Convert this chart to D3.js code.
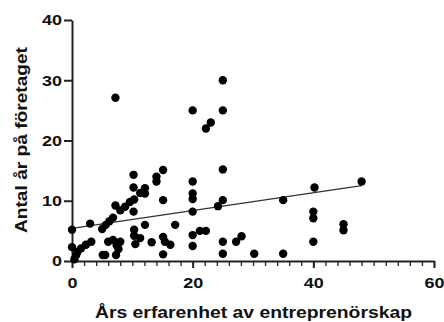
<!DOCTYPE html>
<html>
<head>
<meta charset="utf-8">
<script src="https://cdn.jsdelivr.net/npm/d3@7"></script>
<style>
  body { margin: 0; background: #fff; }
  text { font-family: "Liberation Sans", Arial, sans-serif; font-weight: bold; }
</style>
</head>
<body>
<div id="chart"></div>
<script>
// years of entrepreneurship experience (x) vs years at the company (y)
var expYears = [0, 0, 0.7, 0.9, 1.5, 2.3, 3.2, 0.4, 3, 5.1, 5.5, 5, 5.6, 6.2, 6.8, 7.2, 8, 8.8, 9.6, 10.3,
    6, 6.8, 7.4, 8, 7.7, 7.3, 10.5, 10.3, 10.3, 10.2, 10.2, 10.2, 11.3, 12.1, 12.1, 12.1, 11.3, 13.2,
    14, 14, 15.1, 15.1, 17.1, 15.1, 15.4, 16.3, 15.1, 7.2,
    20, 20, 20, 20, 20, 20, 20, 21.2, 22.2, 22.2, 23, 24.2, 25, 25, 25, 25, 25, 25, 27.2, 28.1, 30.2,
    35, 35, 40.2, 40, 40, 40, 45, 45, 48];
var companyYears = [5.2, 2.3, 1, 1.5, 2.1, 2.7, 3.2, 0.3, 6.2, 1, 1, 5.3, 6, 6.6, 7.2, 9.2, 8.4, 9, 9.8, 10.2,
    3.2, 3.5, 2.6, 3.2, 2, 1, 2.8, 4.2, 5.2, 8.2, 12.2, 14.3, 11.3, 12.1, 11.2, 6, 3.8, 3.1,
    14, 13.2, 15.1, 10.1, 6, 4, 3.2, 2.7, 1.1, 27.1,
    25, 13.2, 11.2, 10.3, 8.2, 4.3, 2.5, 5, 5, 22, 23, 9.1, 30, 25, 15.2, 10.1, 3.2, 1.2, 3.2, 4.1, 1.2,
    10.1, 1.2, 12.2, 8.2, 7.1, 3.2, 6.1, 5.1, 13.2];
// fitted line end points
var fitX = [0, 48];
var fitY = [5.4, 12.5];
var yTicks = [0, 10, 20, 30, 40];
var xTicks = [0, 20, 40, 60];
var xMinorTicks = d3.range(0, 61, 2);

var w = 444, h = 322;
var margin = {left: 72, top: 20, right: 10, bottom: 61};

var svg = d3.select("#chart").append("svg").attr("width", w).attr("height", h);

var x = d3.scaleLinear().domain([0, 60]).range([margin.left, w - margin.right]);
var y = d3.scaleLinear().domain([0, 40]).range([h - margin.bottom, margin.top]);

// labels in the picture are a bit wider than the font
function widen(sel){
    sel.attr("font-size", 15).attr("fill", "#111")
       .attr("textLength", function(d){ return String(d).length * 10; })
       .attr("lengthAdjust", "spacingAndGlyphs");
}

// minor x ticks
svg.append("g")
    .attr("transform", "translate(0," + y(0) + ")")
    .call(d3.axisBottom(x).tickValues(xMinorTicks).tickSize(5).tickFormat(""))
    .call(function(g){ g.select(".domain").remove(); })
    .selectAll("line").attr("stroke", "#222").attr("stroke-width", 1.3);

var xAxis = svg.append("g")
    .attr("transform", "translate(0," + y(0) + ")")
    .call(d3.axisBottom(x).tickValues(xTicks).tickSize(7).tickSizeOuter(0).tickPadding(9));
xAxis.select(".domain").attr("stroke", "#222").attr("stroke-width", 2);
xAxis.selectAll("line").attr("stroke", "#222").attr("stroke-width", 2);
xAxis.selectAll("text").call(widen);

var yAxis = svg.append("g")
    .attr("transform", "translate(" + x(0) + ",0)")
    .call(d3.axisLeft(y).tickValues(yTicks).tickSize(8).tickSizeOuter(0).tickPadding(2));
yAxis.select(".domain").attr("stroke", "#222").attr("stroke-width", 2);
yAxis.selectAll("line").attr("stroke", "#222").attr("stroke-width", 2);
yAxis.selectAll("text").call(widen);

// fit line
svg.append("line")
    .attr("x1", x(fitX[0])).attr("y1", y(fitY[0]))
    .attr("x2", x(fitX[1])).attr("y2", y(fitY[1]))
    .attr("stroke", "#333").attr("stroke-width", 1.2);

svg.append("g").selectAll("circle")
    .data(expYears)
    .enter().append("circle")
    .attr("cx", function(d){ return x(d); })
    .attr("cy", function(d, i){ return y(companyYears[i]); })
    .attr("r", 4.2)
    .attr("fill", "#000");

svg.append("text")
    .attr("x", 95)
    .attr("y", 318)
    .attr("font-size", 17)
    .attr("fill", "#111")
    .attr("textLength", 317)
    .attr("lengthAdjust", "spacingAndGlyphs")
    .text("Års erfarenhet av entreprenörskap");

svg.append("text")
    .attr("transform", "translate(27,233) rotate(-90)")
    .attr("font-size", 16)
    .attr("fill", "#111")
    .attr("textLength", 186)
    .attr("lengthAdjust", "spacingAndGlyphs")
    .text("Antal år på företaget");
</script>
</body>
</html>
